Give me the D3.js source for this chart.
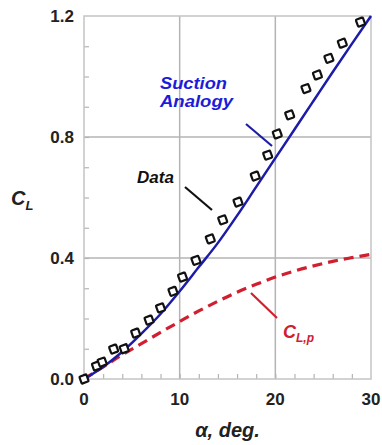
<!DOCTYPE html>
<html>
<head>
<meta charset="utf-8">
<script src="https://cdn.jsdelivr.net/npm/d3@7"></script>
<style>
  body { margin: 0; background: #fff; }
  svg { display: block; font-family: "Liberation Sans", Arial, sans-serif; }
</style>
</head>
<body>
<div id="chart"></div>
<script>
// measured points (alpha, CL)
const alphaData = [0, 1.3, 1.9, 3.1, 4.2, 5.4, 6.8, 8.0, 9.3, 10.3, 11.7, 13.2, 14.5, 16.1, 17.9, 19.2, 20.2, 21.5, 23.2, 24.4, 25.6, 27.0, 28.9]
const clData = [0.0, 0.043, 0.056, 0.099, 0.10, 0.152, 0.195, 0.235, 0.29, 0.337, 0.392, 0.463, 0.526, 0.585, 0.671, 0.74, 0.81, 0.873, 0.96, 1.005, 1.06, 1.11, 1.18]

// suction analogy curves
const alphaCurve = [0, 2, 4, 6, 8, 10, 12, 14, 16, 18, 20, 22, 24, 26, 28, 30]
const clTotal = [0, 0.04, 0.09, 0.15, 0.215, 0.29, 0.37, 0.45, 0.54, 0.635, 0.73, 0.825, 0.92, 1.015, 1.108, 1.2]
const clPotential = [0, 0.04, 0.08, 0.117, 0.154, 0.19, 0.225, 0.257, 0.287, 0.313, 0.337, 0.357, 0.374, 0.389, 0.401, 0.412]

const xTicks = [0, 10, 20, 30]
const yTicks = [0.0, 0.4, 0.8, 1.2]

const width = 382, height = 445
const margin = {top: 16, right: 11, bottom: 66, left: 84}

const svg = d3.select("#chart").append("svg")
    .attr("width", width)
    .attr("height", height)

const x = d3.scaleLinear().domain([0, 30]).range([margin.left, width - margin.right])
const y = d3.scaleLinear().domain([0, 1.2]).range([height - margin.bottom, margin.top])

const gridColor = "#b4b4b4"

// grid lines at the major ticks
svg.append("g")
    .selectAll("line.vgrid")
    .data(xTicks.slice(1, -1))
    .join("line")
    .attr("x1", d => x(d)).attr("x2", d => x(d))
    .attr("y1", y(0)).attr("y2", y(1.2))
    .attr("stroke", gridColor).attr("stroke-width", 1.5)

svg.append("g")
    .selectAll("line.hgrid")
    .data(yTicks.slice(1, -1))
    .join("line")
    .attr("x1", x(0)).attr("x2", x(30))
    .attr("y1", d => y(d)).attr("y2", d => y(d))
    .attr("stroke", gridColor).attr("stroke-width", 1.5)

// minor ticks inside the frame
const xAxis = d3.axisTop(x).tickValues(d3.range(2, 30, 2)).tickSize(5).tickFormat("")
svg.append("g")
    .attr("transform", `translate(0,${y(0)})`)
    .call(xAxis)
    .call(g => g.select(".domain").remove())
    .call(g => g.selectAll("line").attr("stroke", gridColor).attr("stroke-width", 1.2))

const yAxis = d3.axisRight(y).tickValues(d3.range(0.1, 1.2, 0.1)).tickSize(5).tickFormat("")
svg.append("g")
    .attr("transform", `translate(${x(0)},0)`)
    .call(yAxis)
    .call(g => g.select(".domain").remove())
    .call(g => g.selectAll("line").attr("stroke", gridColor).attr("stroke-width", 1.2))

// frame
svg.append("rect")
    .attr("x", x(0)).attr("y", y(1.2))
    .attr("width", x(30) - x(0)).attr("height", y(0) - y(1.2))
    .attr("fill", "none").attr("stroke", "#c4c4c4").attr("stroke-width", 1.5)

// tick labels
svg.append("g")
    .selectAll("text")
    .data(xTicks)
    .join("text")
    .attr("x", d => x(d)).attr("y", y(0) + 26)
    .attr("text-anchor", "middle")
    .attr("font-size", 17).attr("font-weight", "bold").attr("fill", "#222")
    .text(d => d)

svg.append("g")
    .selectAll("text")
    .data(yTicks)
    .join("text")
    .attr("x", x(0) - 10).attr("y", d => y(d) + 6)
    .attr("text-anchor", "end")
    .attr("font-size", 17).attr("font-weight", "bold").attr("fill", "#222")
    .text(d => d.toFixed(1))

// axis titles
svg.append("text")
    .attr("x", (x(0) + x(30)) / 2).attr("y", 437)
    .attr("text-anchor", "middle")
    .attr("font-size", 20).attr("font-weight", "bold").attr("font-style", "italic").attr("fill", "#222")
    .text("α, deg.")

const cl = svg.append("text")
    .attr("x", 11).attr("y", 205)
    .attr("font-size", 20).attr("font-weight", "bold").attr("font-style", "italic").attr("fill", "#222")
cl.append("tspan").text("C")
cl.append("tspan").attr("font-size", 13).attr("dy", 5).text("L")

// curves
const line = d3.line().x(d => x(d[0])).y(d => y(d[1])).curve(d3.curveMonotoneX)

svg.append("path")
    .datum(d3.zip(alphaCurve, clPotential))
    .attr("d", line)
    .attr("fill", "none")
    .attr("stroke", "#d02030")
    .attr("stroke-width", 3.2)
    .attr("stroke-dasharray", "10,6")

svg.append("path")
    .datum(d3.zip(alphaCurve, clTotal))
    .attr("d", line)
    .attr("fill", "none")
    .attr("stroke", "#1c1ca8")
    .attr("stroke-width", 2.5)

// data markers
svg.append("g")
    .selectAll("rect")
    .data(d3.zip(alphaData, clData))
    .join("rect")
    .attr("x", -3.7).attr("y", -3.7)
    .attr("width", 7.4).attr("height", 7.4)
    .attr("rx", 1)
    .attr("transform", d => `translate(${x(d[0])},${y(d[1])}) rotate(-20)`)
    .attr("fill", "#fff")
    .attr("stroke", "#111")
    .attr("stroke-width", 2.2)

// annotations
svg.append("line")
    .attr("x1", 246).attr("y1", 124).attr("x2", 272).attr("y2", 146)
    .attr("stroke", "#1c1ca8").attr("stroke-width", 2.2)

svg.append("text")
    .attr("x", 160).attr("y", 89)
    .attr("font-size", 16).attr("font-weight", "bold").attr("font-style", "italic")
    .attr("fill", "#1c1cd8")
    .attr("textLength", 67).attr("lengthAdjust", "spacingAndGlyphs")
    .text("Suction")

svg.append("text")
    .attr("x", 160).attr("y", 107)
    .attr("font-size", 16).attr("font-weight", "bold").attr("font-style", "italic")
    .attr("fill", "#1c1cd8")
    .attr("textLength", 73).attr("lengthAdjust", "spacingAndGlyphs")
    .text("Analogy")

svg.append("line")
    .attr("x1", 185).attr("y1", 187).attr("x2", 212).attr("y2", 210)
    .attr("stroke", "#111").attr("stroke-width", 2.2)

svg.append("text")
    .attr("x", 137).attr("y", 183)
    .attr("font-size", 17).attr("font-weight", "bold").attr("font-style", "italic")
    .attr("fill", "#111")
    .text("Data")

svg.append("line")
    .attr("x1", 251).attr("y1", 293).attr("x2", 277).attr("y2", 318)
    .attr("stroke", "#d02030").attr("stroke-width", 2.2)

const clp = svg.append("text")
    .attr("x", 283).attr("y", 338)
    .attr("font-size", 18).attr("font-weight", "bold").attr("font-style", "italic")
    .attr("fill", "#d02030")
clp.append("tspan").text("C")
clp.append("tspan").attr("font-size", 12).attr("dy", 4).text("L,p")
</script>
</body>
</html>
